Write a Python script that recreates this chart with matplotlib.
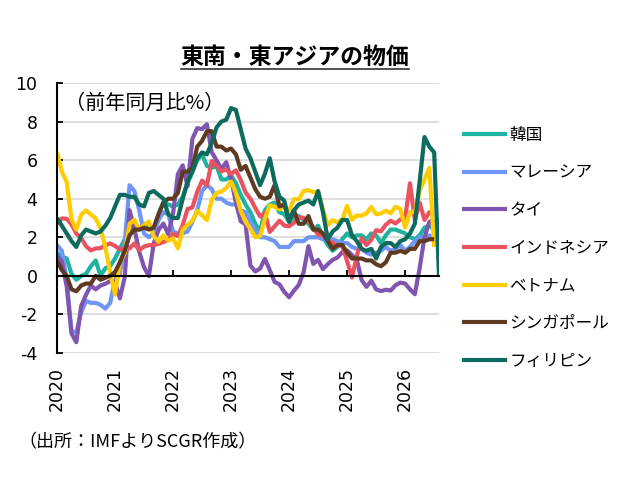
import numpy as np
import matplotlib
matplotlib.use('Agg')
import matplotlib.pyplot as plt
from matplotlib.lines import Line2D

plt.rcParams['font.family'] = ['Noto Sans CJK JP', 'DejaVu Sans']

# monthly CPI, y/y %, Jan 2020 onward
korea = [1.2, 1.0, 0.9, 0.1, -0.2, 0.0, 0.1, 0.5, 0.8, 0.0, 0.4, 0.5,
         0.9, 1.4, 1.9, 2.3, 2.7, 2.4, 2.7, 2.6, 2.4, 3.2, 3.8, 3.7,
         3.6, 3.7, 4.1, 4.8, 5.4, 6.0, 6.3, 5.7, 5.6, 5.7, 5.0, 5.0,
         5.2, 4.8, 4.2, 3.7, 3.3, 2.7, 2.3, 3.4, 3.7, 3.8, 3.3, 3.2,
         2.8, 3.1, 3.1, 2.9, 2.7, 2.4, 2.6, 2.0, 1.6, 1.3, 1.5, 1.9,
         2.2, 2.0, 2.1, 2.1, 1.9, 2.2, 2.1, 1.7, 2.1, 2.4, 2.4, 2.3,
         2.2, 2.0, 1.9, 2.1, 2.5, 2.6, 2.4]
malaysia = [1.6, 1.3, -0.2, -2.9, -2.9, -1.9, -1.3, -1.4, -1.4, -1.5, -1.7, -1.4,
            -0.2, 0.1, 1.7, 4.7, 4.4, 3.4, 2.2, 2.0, 2.2, 2.9, 3.3, 3.2,
            2.3, 2.2, 2.2, 2.3, 2.8, 3.4, 4.4, 4.7, 4.5, 4.0, 4.0, 3.8,
            3.7, 3.7, 3.4, 3.3, 2.8, 2.4, 2.0, 2.0, 1.9, 1.8, 1.5, 1.5,
            1.5, 1.8, 1.8, 1.8, 2.0, 2.0, 2.0, 1.9, 1.8, 1.9, 1.8, 1.7,
            1.7, 1.5, 1.4, 1.4, 1.2, 1.1, 1.2, 1.3, 1.5, 1.3, 1.4, 1.6,
            1.3, 1.5, 1.8, 2.0, 2.0, 2.1, 2.0]
thailand = [1.05, 0.74, -0.54, -2.99, -3.44, -1.57, -0.98, -0.50, -0.70, -0.50, -0.41, -0.27,
            -0.34, -1.17, -0.08, 3.41, 2.44, 1.25, 0.45, -0.02, 1.68, 2.38, 2.71, 2.17,
            3.23, 5.28, 5.73, 4.65, 7.10, 7.66, 7.61, 7.86, 6.41, 5.98, 5.55, 5.89,
            5.02, 3.79, 2.83, 2.67, 0.53, 0.23, 0.38, 0.88, 0.30, -0.31, -0.44, -0.83,
            -1.11, -0.77, -0.47, 0.19, 1.54, 0.62, 0.83, 0.35, 0.61, 0.83, 0.95, 1.23,
            1.32, 1.08, 0.84, -0.22, -0.57, -0.25, -0.70, -0.79, -0.72, -0.76, -0.49, -0.35,
            -0.4, -0.7, -0.95, 0.4, 2.0, 2.8, 2.9]
indonesia = [2.68, 2.98, 2.96, 2.67, 2.19, 1.96, 1.54, 1.32, 1.42, 1.44, 1.59, 1.68,
             1.55, 1.38, 1.37, 1.42, 1.68, 1.33, 1.52, 1.59, 1.60, 1.66, 1.75, 1.87,
             2.18, 2.06, 2.64, 3.47, 3.55, 4.35, 4.94, 4.69, 5.95, 5.71, 5.42, 5.51,
             5.28, 5.47, 4.97, 4.33, 4.00, 3.52, 3.08, 3.27, 2.28, 2.56, 2.86, 2.61,
             2.57, 2.75, 3.05, 3.00, 2.84, 2.51, 2.13, 2.12, 1.84, 1.71, 1.55, 1.57,
             0.76, -0.09, 1.03, 1.95, 1.60, 1.87, 2.37, 2.31, 2.65, 2.86, 2.72, 2.92,
             3.0, 4.8, 2.9, 3.8, 2.9, 3.3, 3.3]
vietnam = [6.43, 5.40, 4.87, 2.93, 2.40, 3.17, 3.39, 3.18, 2.98, 2.47, 1.48, 0.19,
           -0.97, 0.70, 1.16, 2.70, 2.90, 2.41, 2.64, 2.82, 2.06, 1.77, 2.10, 1.81,
           1.94, 1.42, 2.41, 2.64, 2.86, 3.37, 3.14, 2.89, 3.94, 4.30, 4.37, 4.55,
           4.89, 4.31, 3.35, 2.81, 2.43, 2.00, 2.06, 2.96, 3.66, 3.59, 3.45, 3.58,
           3.37, 3.98, 3.97, 4.40, 4.44, 4.34, 4.36, 3.45, 2.63, 2.89, 2.77, 2.94,
           3.63, 2.91, 3.13, 3.12, 3.24, 3.57, 3.19, 3.24, 3.38, 3.25, 3.58, 3.48,
           2.5, 3.3, 3.3, 4.4, 5.0, 5.6, 1.5]
singapore = [0.8, 0.3, 0.0, -0.7, -0.8, -0.5, -0.4, -0.4, 0.0, -0.2, -0.1, 0.0,
             0.2, 0.7, 1.3, 2.1, 2.4, 2.4, 2.5, 2.4, 2.5, 3.2, 3.8, 4.0,
             4.0, 4.3, 5.4, 5.4, 5.6, 6.7, 7.0, 7.5, 7.5, 6.7, 6.7, 6.5,
             6.6, 6.3, 5.5, 5.7, 5.1, 4.5, 4.1, 4.0, 4.1, 4.7, 3.6, 3.7,
             2.9, 3.4, 2.7, 2.7, 3.1, 2.4, 2.4, 2.2, 1.8, 1.4, 1.6, 1.6,
             1.2, 0.9, 0.9, 0.9, 0.8, 0.8, 0.6, 0.5, 0.7, 1.2, 1.2, 1.3,
             1.2, 1.4, 1.4, 1.8, 1.8, 1.9, 1.9]
philippines = [3.0, 2.6, 2.2, 1.8, 1.5, 2.1, 2.4, 2.3, 2.2, 2.3, 2.6, 3.0,
               3.6, 4.2, 4.2, 4.1, 4.1, 3.7, 3.6, 4.3, 4.4, 4.2, 4.0, 3.2,
               3.0, 3.0, 4.0, 4.9, 5.4, 6.1, 6.4, 6.3, 6.9, 7.7, 8.0, 8.1,
               8.7, 8.6, 7.6, 6.6, 6.1, 5.4, 4.7, 5.3, 6.1, 4.9, 4.1, 3.9,
               2.8, 3.4, 3.7, 3.8, 3.9, 3.7, 4.4, 3.3, 1.9, 2.3, 2.5, 2.9,
               2.9, 2.1, 1.8, 1.4, 1.3, 1.4, 0.9, 1.5, 1.7, 1.7, 1.5, 1.8,
               1.9, 2.2, 2.7, 4.9, 7.2, 6.7, 6.4, 0.0]

names = ['韓国', 'マレーシア', 'タイ', 'インドネシア', 'ベトナム', 'シンガポール', 'フィリピン']
colors = ['#1DB3A0', '#6F95F5', '#7F55B0', '#E8535F', '#FFCC00', '#5E3A22', '#0D6B5E']
series = [korea, malaysia, thailand, indonesia, vietnam, singapore, philippines]

years = ['2020', '2021', '2022', '2023', '2024', '2025', '2026']
year_pos = [12 * k for k in range(len(years))]
ytick_vals = [-4, -2, 0, 2, 4, 6, 8, 10]
ytick_lbls = ['-4', '-2', '0', '2', '4', '6', '8', '10']

fig = plt.figure(figsize=(6.28, 4.90), dpi=100)
ax = fig.add_axes([57/628, 1-353/490, (439-57)/628, (353-83)/490])

for vals, name, c in zip(series, names, colors):
    ax.plot(np.arange(len(vals)), vals, '-', color=c, lw=3.0, label=name,
            solid_joinstyle='round', solid_capstyle='butt')

ax.set_xlim(0, len(philippines) - 1)
ax.set_ylim(-4, 10)
ax.set_yticks(ytick_vals, ytick_lbls, family='DejaVu Sans', fontsize=12.5)
ax.yaxis.grid(True, color='#D9D9D9', lw=1.2)
ax.set_axisbelow(True)

for s in ['top', 'right']:
    ax.spines[s].set_visible(False)
ax.spines['left'].set_linewidth(1.5)
ax.spines['bottom'].set_position(('data', 0))
ax.spines['bottom'].set_linewidth(1.5)
ax.set_xticks(year_pos)
ax.tick_params(axis='x', direction='in', length=4, width=1.3, labelbottom=False)
ax.tick_params(axis='y', direction='in', length=4, width=1.3, pad=14)

sec = ax.secondary_xaxis('bottom')
sec.set_xticks(year_pos, years, rotation=90, family='DejaVu Sans', fontsize=12.5)
sec.tick_params(length=0, pad=10)
sec.spines['bottom'].set_visible(False)

ax.text(0.022, 0.925, '（前年同月比%）', transform=ax.transAxes, fontsize=14.5,
        ha='left', va='center')

fig.legend(loc='upper left', bbox_to_anchor=(447/628, 1-112/490), frameon=False,
           fontsize=12, handlelength=2.7, handletextpad=0.15, labelspacing=1.24)

title = fig.text(295/628, 1-57/490, '東南・東アジアの物価', fontsize=16.5, fontweight='bold',
                 ha='center', va='center')
fig.text(18/628, 1-442/490, '（出所：IMFよりSCGR作成）', fontsize=13, ha='left', va='center')

fig.canvas.draw()
bb = title.get_window_extent()
fig.add_artist(Line2D([bb.x0/628, bb.x1/628], [(bb.y0 - 1)/490, (bb.y0 - 1)/490],
                      transform=fig.transFigure, color='#333333', lw=1.2))

fig.savefig('out.png', dpi=100)
